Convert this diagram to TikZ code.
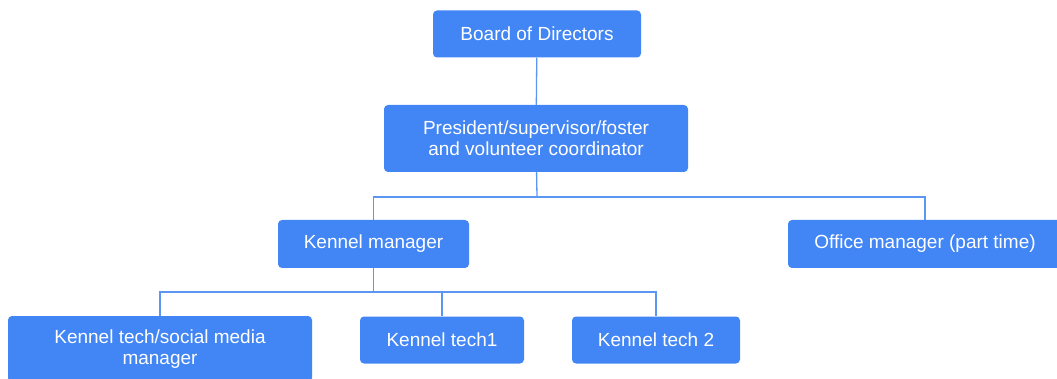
\documentclass[tikz,border=0pt]{standalone}
\usepackage{fontspec}
\setmainfont{Liberation Sans}
\definecolor{boxblue}{HTML}{4285F4}
\definecolor{lineblue}{HTML}{5A96F2}

\begin{document}
\begin{tikzpicture}[x=1pt, y=-1pt]
			\tikzset{role/.style = {fill=boxblue, rounded corners=4pt,
			text=white, align=center, inner sep=0pt,
			font=\fontsize{19}{21}\selectfont}}
			\tikzset{link/.style = {draw=lineblue, line width=1.3pt}}
			
			\useasboundingbox (0, 0) rectangle (1057, 379);
			\clip (0, 0) rectangle (1057, 379);
			
			\node[role, minimum width=208, minimum height=47] (board)
			at (537, 34) {Board of Directors};
			\node[role, minimum width=304, minimum height=67] (president)
			at (536, 138.5) {President/supervisor/foster\\and volunteer coordinator};
			\node[role, minimum width=191, minimum height=48] (kennel_mgr)
			at (373.5, 244) {Kennel manager};
			\node[role, minimum width=274, minimum height=48] (office_mgr)
			at (925, 244) {Office manager (part time)};
			\node[role, minimum width=304, minimum height=66] (tech_social)
			at (160, 349) {Kennel tech/social media\\manager};
			\node[role, minimum width=164, minimum height=47] (tech_one)
			at (442, 340) {Kennel tech1};
			\node[role, minimum width=168, minimum height=47] (tech_two)
			at (656, 340) {Kennel tech 2};
			
			\coordinate (split_top) at (537, 197);
			\coordinate (split_low) at (373.5, 292);
			
			\draw[link] (board) -- (president);
			\draw[link] (president) -- (split_top);
			\draw[link] (split_top) -| (kennel_mgr);
			\draw[link] (split_top) -| (office_mgr);
			\draw[link] (kennel_mgr) -- (split_low);
			\draw[link] (split_low) -| (tech_social);
			\draw[link] (split_low) -| (tech_one);
			\draw[link] (split_low) -| (tech_two);
		\end{tikzpicture}
\end{document}
